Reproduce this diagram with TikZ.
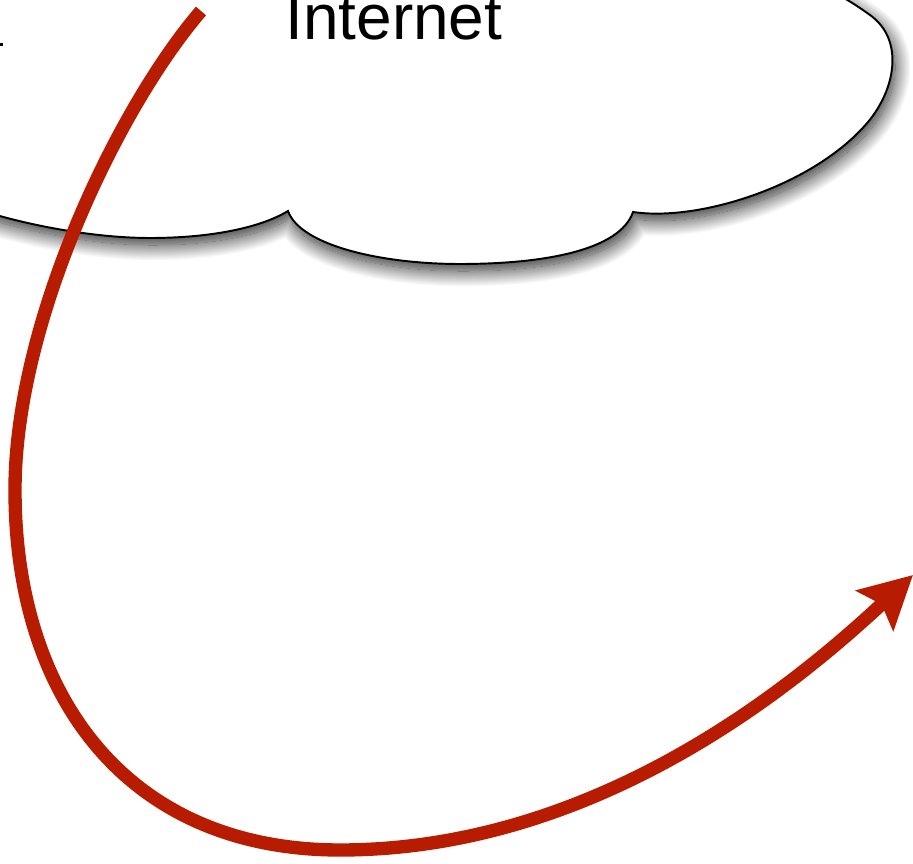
\documentclass[tikz,border=0pt]{standalone}
\usepackage{fontspec}
\setmainfont{Liberation Sans}
\usetikzlibrary{arrows.meta,shadows.blur}
\definecolor{arrowred}{RGB}{184,28,0}
\begin{document}
\begin{tikzpicture}[x=0.02cm, y=-0.02cm,
  cloudline/.style={draw=black, line width=1.1pt, fill=white,
    blur shadow={shadow xshift=1.5pt, shadow yshift=-4pt, shadow blur radius=9pt,
      shadow blur steps=25, shadow opacity=85}},
  cloudtext/.style={font=\fontsize{36.4}{40}\selectfont, inner sep=0pt, anchor=base west},
  flow/.style={draw=arrowred, line width=7.6pt,
    -{Stealth[length=1.04cm, width=1.08cm, inset=0.18cm]}}]
\useasboundingbox (0,0) rectangle (913,864);
\clip (0,0) rectangle (913,864);
\draw[cloudline] (-60,-80) -- (-60,195) .. controls (-10,218) and (80,238) .. (150,238)
  .. controls (210,238) and (260,228) .. (288,211)
  .. controls (300,245) and (380,264) .. (460,264)
  .. controls (545,264) and (620,250) .. (633,212)
  .. controls (700,222) and (815,185) .. (868,122)
  .. controls (895,90) and (905,40) .. (870,15)
  .. controls (842,-5) and (830,-10) .. (800,-20) -- (800,-80) -- cycle;
\node[cloudtext] (inet) at (285,40) {Internet};
\fill (0,43) rectangle (3,46);
\coordinate (src) at (201,11);
\coordinate (bend) at (15,490);
\coordinate (low) at (340,850);
\coordinate (dst) at (913,575);
\draw[flow] (src) .. controls (120,105) and (15,320) .. (bend)
  .. controls (15,700) and (130,850) .. (low)
  .. controls (600,850) and (800,680) .. (dst);
\end{tikzpicture}
\end{document}
